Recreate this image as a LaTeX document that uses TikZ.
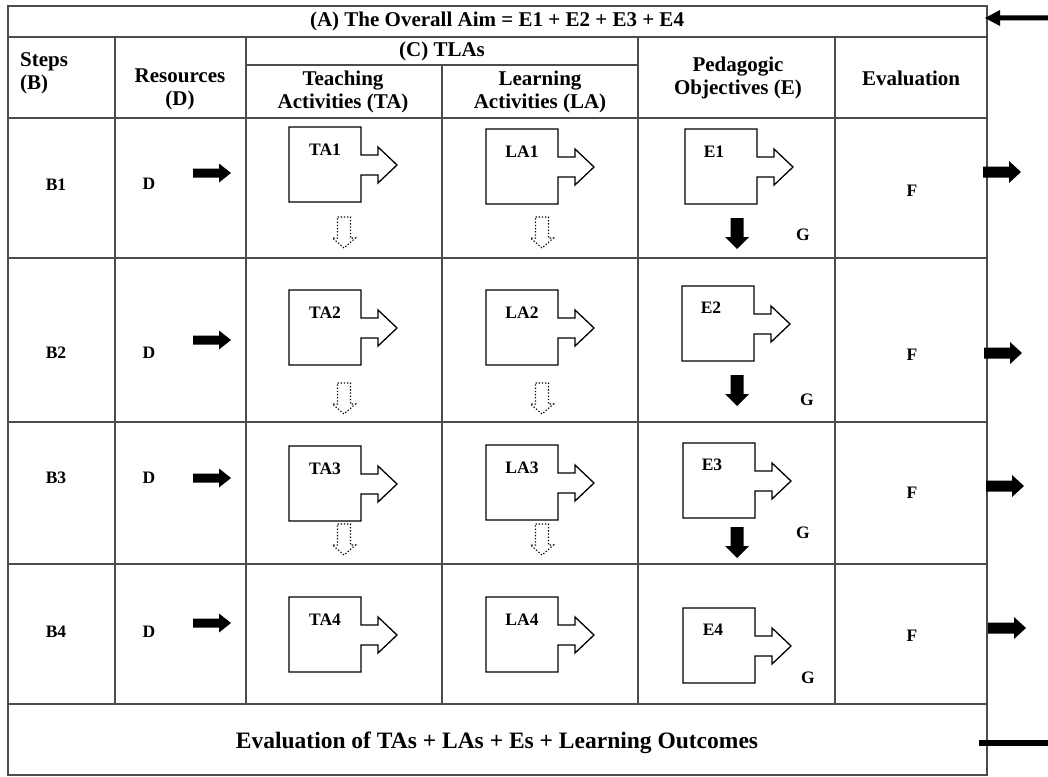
\documentclass[tikz,border=0pt]{standalone}
\usepackage{fontspec}
\setmainfont{Liberation Serif}
\begin{document}
\begin{tikzpicture}[x=1pt,y=-1pt,
  grid/.style={draw=black!70,line width=1.2pt},
  boxline/.style={draw=black,line width=1.3pt,line join=miter},
  hdr/.style={font=\fontsize{21}{23}\selectfont\bfseries,align=center,inner sep=0pt},
  lbl/.style={font=\fontsize{17.5}{19}\selectfont\bfseries,inner sep=0pt},
  notchbox/.pic={\draw[boxline] (0,0) -- (72,0) -- (72,28) -- (89,28) -- (89,20) -- (108,38) -- (89,56) -- (89,48) -- (72,48) -- (72,75) -- (0,75) -- cycle;},
  darrowbl/.pic={\fill[black] (-6.5,0) -- (6.5,0) -- (6.5,19) -- (12,19) -- (0,31) -- (-12,19) -- (-6.5,19) -- cycle;},
  darrowdot/.pic={\draw[black,line width=1.1pt,dash pattern=on 1.3pt off 1.9pt] (-6.5,0) -- (6.5,0) -- (6.5,21) -- (11.5,21) -- (0,31) -- (-11.5,21) -- (-6.5,21) -- cycle;},
  rarrowD/.pic={\fill[black] (0,-4.5) -- (26,-4.5) -- (26,-9.5) -- (38,0) -- (26,9.5) -- (26,4.5) -- (0,4.5) -- cycle;},
  rarrowO/.pic={\fill[black] (0,-5.5) -- (26,-5.5) -- (26,-11) -- (38,0) -- (26,11) -- (26,5.5) -- (0,5.5) -- cycle;}
]
\useasboundingbox (0,0) rectangle (1048,776);
\fill[white] (0,0) rectangle (1048,776);

% table grid
\draw[grid] (8,6) rectangle (987,775);
\foreach \yy in {37,118,258,422,564,704} \draw[grid] (8,\yy) -- (987,\yy);
\foreach \xx in {115,246,638,835} \draw[grid] (\xx,37) -- (\xx,704);
\draw[grid] (442,65) -- (442,704);
\draw[grid] (246,65) -- (638,65);

% header texts
\node[hdr] (aim) at (497,21) {(A) The Overall Aim = E1 + E2 + E3 + E4};
\node[hdr] (tlas) at (442,51) {(C) TLAs};
\node[hdr,align=left,anchor=west] (steps) at (20,73) {Steps\\(B)};
\node[hdr] (res) at (180,89) {Resources\\(D)};
\node[hdr] (teach) at (343,92) {Teaching\\Activities (TA)};
\node[hdr] (learn) at (540,92) {Learning\\Activities (LA)};
\node[hdr] (ped) at (738,78) {Pedagogic\\Objectives (E)};
\node[hdr] (evalh) at (911,78) {Evaluation};
\node[hdr,font=\fontsize{23.5}{25}\selectfont\bfseries] (evalall) at (497,743) {Evaluation of TAs + LAs + Es + Learning Outcomes};

% row labels
\node[lbl] (b1) at (56,185) {B1};
\node[lbl] (b2) at (56,353) {B2};
\node[lbl] (b3) at (56,478) {B3};
\node[lbl] (b4) at (56,632) {B4};
\node[lbl] (d1) at (149,184) {D};
\node[lbl] (d2) at (149,353) {D};
\node[lbl] (d3) at (149,478) {D};
\node[lbl] (d4) at (149,632) {D};
\node[lbl] (f1) at (912,191) {F};
\node[lbl] (f2) at (912,355) {F};
\node[lbl] (f3) at (912,493) {F};
\node[lbl] (f4) at (912,636) {F};
\node[lbl] (g1) at (803,235) {G};
\node[lbl] (g2) at (807,400) {G};
\node[lbl] (g3) at (803,533) {G};
\node[lbl] (g4) at (808,678) {G};

% D arrows
\pic at (193,173) {rarrowD};
\pic at (193,340) {rarrowD};
\pic at (193,478) {rarrowD};
\pic at (193,623) {rarrowD};

% notched boxes
\pic at (289,127) {notchbox};
\pic at (289,290) {notchbox};
\pic at (289,446) {notchbox};
\pic at (289,597) {notchbox};
\pic at (486,129) {notchbox};
\pic at (486,290) {notchbox};
\pic at (486,445) {notchbox};
\pic at (486,597) {notchbox};
\pic at (685,129) {notchbox};
\pic at (682,286) {notchbox};
\pic at (683,443) {notchbox};
\pic at (683,608) {notchbox};

\node[lbl] (ta1) at (325,150) {TA1};
\node[lbl] (ta2) at (325,313) {TA2};
\node[lbl] (ta3) at (325,469) {TA3};
\node[lbl] (ta4) at (325,620) {TA4};
\node[lbl] (la1) at (522,152) {LA1};
\node[lbl] (la2) at (522,313) {LA2};
\node[lbl] (la3) at (522,468) {LA3};
\node[lbl] (la4) at (522,620) {LA4};
\node[lbl] (e1) at (714,152) {E1};
\node[lbl] (e2) at (711,308) {E2};
\node[lbl] (e3) at (712,465) {E3};
\node[lbl] (e4) at (713,630) {E4};

% dotted down arrows
\pic at (344,217) {darrowdot};
\pic at (344,383) {darrowdot};
\pic at (344,524) {darrowdot};
\pic at (542,217) {darrowdot};
\pic at (542,383) {darrowdot};
\pic at (542,524) {darrowdot};

% black down arrows
\pic at (737,218) {darrowbl};
\pic at (737,375) {darrowbl};
\pic at (737,527) {darrowbl};

% outer right arrows
\pic at (983,172) {rarrowO};
\pic at (984,353) {rarrowO};
\pic at (986,486) {rarrowO};
\pic at (988,628) {rarrowO};

% top-left arrow and bottom line
\fill[black] (985,18) -- (1000,10) -- (1000,15.5) -- (1048,15.5) -- (1048,20.5) -- (1000,20.5) -- (1000,26) -- cycle;
\fill[black] (979,740) rectangle (1048,746);
\end{tikzpicture}
\end{document}
